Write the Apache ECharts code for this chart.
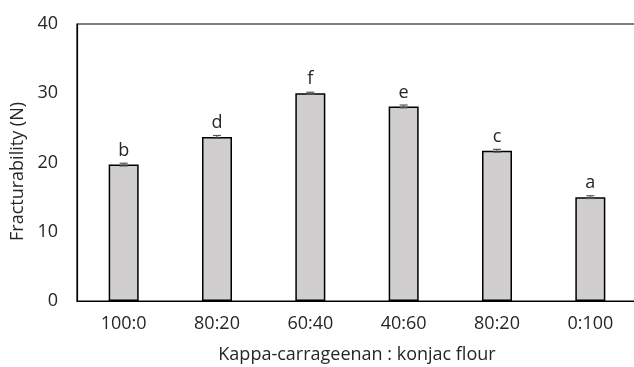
<!DOCTYPE html>
<html>
<head>
<meta charset="utf-8">
<script src="https://cdn.jsdelivr.net/npm/echarts@6/dist/echarts.min.js"></script>
<style>
html,body{margin:0;padding:0;background:#fff;}
#chart{width:634px;height:367px;}
</style>
</head>
<body>
<div id="chart"></div>
<script>
const categories = ['100:0', '80:20', '60:40', '40:60', '80:20', '0:100'];
const values = [19.7, 23.7, 30.0, 28.1, 21.7, 15.0];
const errors = [0.2, 0.2, 0.15, 0.2, 0.2, 0.2];
const letters = ['b', 'd', 'f', 'e', 'c', 'a'];
const yTicks = [0, 10, 20, 30, 40];

const FONT = 'Open Sans';
const TXT = '#262626';

const chart = echarts.init(document.getElementById('chart'));
chart.setOption({
  animation: false,
  grid: { left: 77, width: 560, top: 24, height: 277, show: true, borderColor: '#000', borderWidth: 1.2, backgroundColor: 'transparent', outerBoundsMode: 'none', containLabel: false },
  xAxis: {
    type: 'category',
    data: categories,
    axisTick: { show: false },
    axisLine: { lineStyle: { color: '#000', width: 1.2 } },
    axisLabel: { fontFamily: FONT, fontSize: 18, color: TXT, margin: 14 },
    name: 'Kappa-carrageenan : konjac flour',
    nameLocation: 'middle',
    nameGap: 45,
    nameTextStyle: { fontFamily: FONT, fontSize: 18, color: TXT }
  },
  yAxis: {
    type: 'value',
    min: yTicks[0],
    max: yTicks[yTicks.length - 1],
    interval: 10,
    splitLine: { show: false },
    axisLine: { show: true, lineStyle: { color: '#000', width: 1.2 } },
    axisTick: { show: false },
    axisLabel: { fontFamily: FONT, fontSize: 18, color: TXT, margin: 19 },
    name: 'Fracturability (N)',
    nameLocation: 'middle',
    nameGap: 50,
    nameTextStyle: { fontFamily: FONT, fontSize: 18, color: TXT, padding: [0, 18, 0, 0] }
  },
  series: [
    {
      type: 'bar',
      data: values,
      barWidth: 30,
      itemStyle: { color: '#d0cece', borderColor: '#000', borderWidth: 1.5 },
      label: {
        show: true,
        position: 'top',
        distance: 5,
        fontFamily: FONT,
        fontSize: 18,
        color: TXT,
        formatter: p => letters[p.dataIndex]
      },
      z: 2
    },
    {
      type: 'custom',
      data: values.map((v, i) => [i, v, errors[i]]),
      renderItem: function (params, api) {
        const i = api.value(0), v = api.value(1), e = api.value(2);
        const top = api.coord([i, v + e]);
        const bot = api.coord([i, v - e]);
        const hw = 4;
        const style = { stroke: '#555', lineWidth: 1.2 };
        return {
          type: 'group',
          children: [
            { type: 'line', shape: { x1: top[0], y1: top[1], x2: bot[0], y2: bot[1] }, style },
            { type: 'line', shape: { x1: top[0] - hw, y1: top[1], x2: top[0] + hw, y2: top[1] }, style },
            { type: 'line', shape: { x1: bot[0] - hw, y1: bot[1], x2: bot[0] + hw, y2: bot[1] }, style }
          ]
        };
      },
      z: 3
    }
  ]
});
</script>
</body>
</html>
